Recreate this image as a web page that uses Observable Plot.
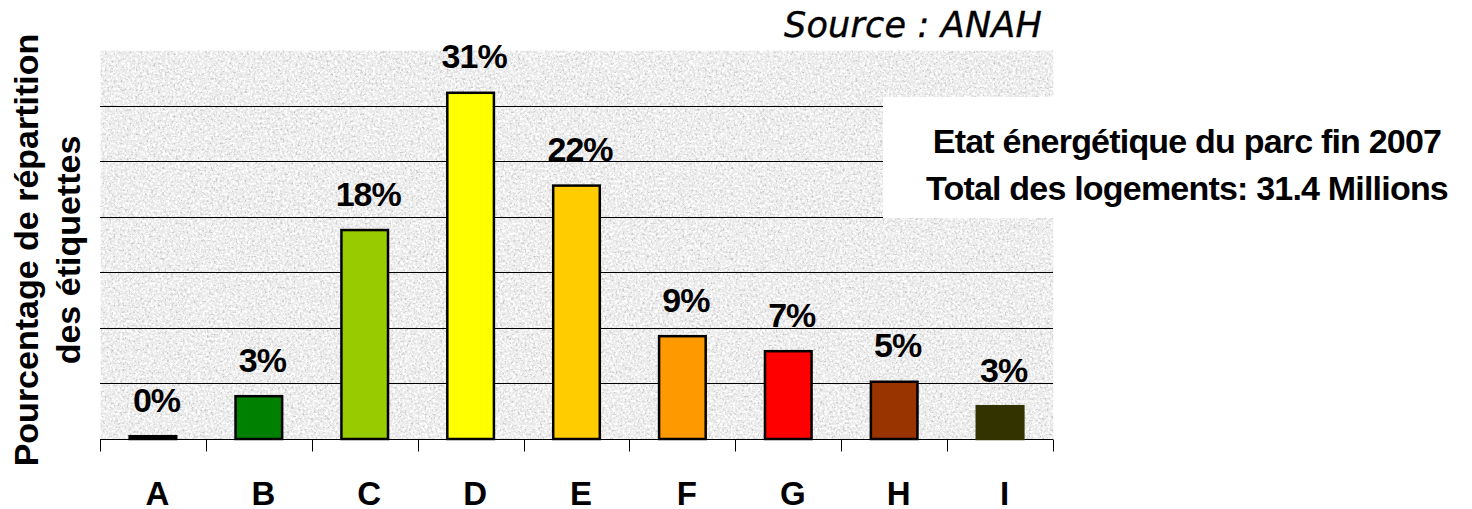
<!DOCTYPE html>
<html>
<head>
<meta charset="utf-8">
<script src="https://cdn.jsdelivr.net/npm/d3@7"></script>
<script src="https://cdn.jsdelivr.net/npm/@observablehq/plot@0.6"></script>
<style>
  html, body { margin: 0; padding: 0; background: #fff; overflow: hidden; }
  #wrap { position: relative; width: 1472px; height: 509px; font-family: "Liberation Sans", Arial, sans-serif; }
  #chart svg { display: block; }
  #source { position: absolute; right: 430px; top: 8px; font-family: "DejaVu Sans", sans-serif; font-style: italic; font-size: 35px; line-height: 35px; color: #000; letter-spacing: 0.2px; white-space: nowrap; -webkit-text-stroke: 0.4px #000; }
  #titlebox { position: absolute; left: 883px; top: 97px; width: 589px; height: 121px; background: #fff; }
  #title { position: absolute; left: 912px; width: 550px; top: 118px; text-align: center; font-weight: bold; font-size: 34px; line-height: 47px; letter-spacing: -0.8px; color: #000; white-space: nowrap; }
  #ylabel { position: absolute; left: -193px; top: 208px; width: 480px; height: 84px; transform: rotate(-90deg); text-align: center; font-weight: bold; font-size: 34px; line-height: 42px; color: #000; white-space: nowrap; }
</style>
</head>
<body>
<svg width="0" height="0" style="position:absolute">
  <defs>
    <filter id="granite" x="0" y="0" width="100%" height="100%" color-interpolation-filters="sRGB">
      <feTurbulence type="fractalNoise" baseFrequency="0.45" numOctaves="2" seed="7" result="n1"/>
      <feColorMatrix in="n1" type="matrix" values="0 0 0 0 0.78  0 0 0 0 0.78  0 0 0 0 0.78  4 0 0 0 -2.2" result="dark"/>
      <feTurbulence type="fractalNoise" baseFrequency="0.4" numOctaves="2" seed="23" result="n2"/>
      <feColorMatrix in="n2" type="matrix" values="0 0 0 0 1  0 0 0 0 1  0 0 0 0 1  0 4 0 0 -1.7" result="light"/>
      <feMerge result="m"><feMergeNode in="SourceGraphic"/><feMergeNode in="light"/><feMergeNode in="dark"/></feMerge>
      <feComposite in="m" in2="SourceGraphic" operator="in"/>
    </filter>
  </defs>
</svg>
<div id="wrap">
  <div id="chart"></div>
  <div id="source">Source : ANAH</div>
  <div id="titlebox"></div>
  <div id="title"><div>Etat énergétique du parc fin 2007</div><div>Total des logements: 31.4 Millions</div></div>
  <div id="ylabel"><div>Pourcentage de répartition</div><div>des étiquettes</div></div>
</div>
<script>
// ---- data ----
const categories = ["A", "B", "C", "D", "E", "F", "G", "H", "I"];
const values = [0.25, 3.85, 18.8, 31.15, 22.8, 9.25, 7.9, 5.15, 2.95];
const labels = ["0%", "3%", "18%", "31%", "22%", "9%", "7%", "5%", "3%"];
const colors = ["#000000", "#008000", "#99CC00", "#FFFF00", "#FFCC00", "#FF9900", "#FF0000", "#993300", "#333300"];
const gridTicks = [5, 10, 15, 20, 25, 30];
const yDomain = [0, 35];

const data = categories.map((c, i) => ({cat: c, value: values[i], label: labels[i], color: colors[i]}));

// tick marks at band boundaries below the baseline
function boundaryTicks(index, scales, vals, dims) {
  const {x, y} = scales;
  const ns = "http://www.w3.org/2000/svg";
  const g = document.createElementNS(ns, "g");
  const step = x(categories[1]) - x(categories[0]);
  const bw = typeof x.bandwidth === "function" ? x.bandwidth() : x.bandwidth;
  const y0 = Math.round(y(0)) + 0.5;
  const xs = categories.map(c => x(c) + bw / 2 - step / 2);
  xs.push(x(categories[categories.length - 1]) + bw / 2 + step / 2);
  for (const px of xs) {
    const l = document.createElementNS(ns, "line");
    const xx = Math.round(px) + 0.5;
    l.setAttribute("x1", xx); l.setAttribute("x2", xx);
    l.setAttribute("y1", y0); l.setAttribute("y2", y0 + 12);
    l.setAttribute("stroke", "#000"); l.setAttribute("stroke-width", 1);
    g.appendChild(l);
  }
  return g;
}

const chart = Plot.plot({
  width: 1472,
  height: 509,
  marginLeft: 100,
  marginRight: 419,
  marginTop: 50,
  marginBottom: 70,
  style: {fontFamily: "'Liberation Sans', Arial, sans-serif", color: "#000", background: "transparent", overflow: "visible"},
  x: {domain: categories, paddingInner: 0.56, paddingOuter: 0.28, round: false, label: null},
  y: {domain: yDomain, axis: null},
  color: {domain: categories, range: colors},
  marks: [
    Plot.frame({fill: "#eaeaea", stroke: null, ariaLabel: "texture"}),
    Plot.gridY(gridTicks, {stroke: "#000", strokeOpacity: 1, strokeWidth: 1, shapeRendering: "crispEdges"}),
    Plot.ruleY([0], {stroke: "#000", strokeWidth: 1, shapeRendering: "crispEdges"}),
    boundaryTicks,
    Plot.barY(data, {x: "cat", y: "value", fill: "cat", stroke: d => d.cat === "I" ? d.color : "#000", strokeWidth: 2.5}),
    Plot.text(data, {x: "cat", y: "value", text: "label", lineAnchor: "bottom", dy: -25, dx: 3, fontSize: 34, fontWeight: "bold", fill: "#000"}),
    Plot.axisX({tickSize: 0, tickPadding: 42, fontSize: 33, fontWeight: "bold", dx: 4, label: null})
  ]
});

document.getElementById("chart").appendChild(chart);
chart.querySelectorAll('[aria-label="text"] text').forEach(t => t.setAttribute("letter-spacing", "-1"));
const tex = chart.querySelector('[aria-label="texture"]');
if (tex) {
  tex.setAttribute("filter", "url(#granite)");
}
</script>
</body>
</html>
